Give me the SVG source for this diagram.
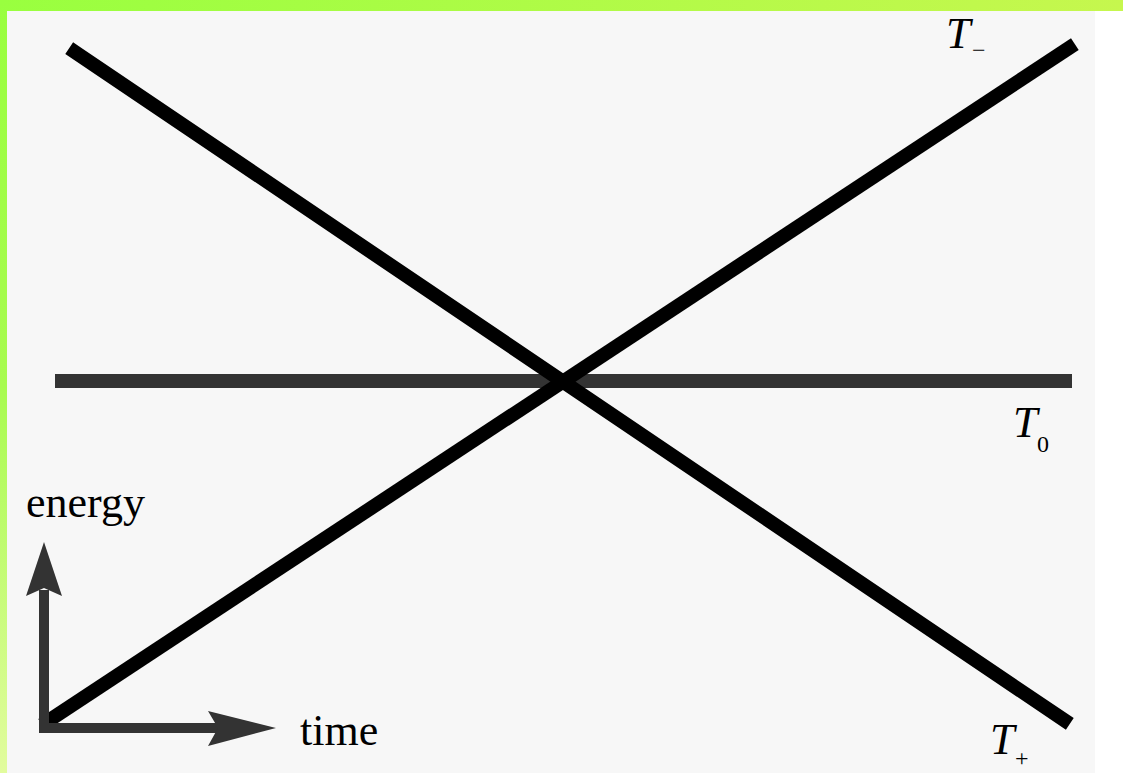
<svg xmlns="http://www.w3.org/2000/svg" width="1123" height="773" viewBox="0 0 1123 773">
<defs>
<linearGradient id="gtop" x1="0" y1="0" x2="1" y2="0">
<stop offset="0" stop-color="#99ff3f"/>
<stop offset="1" stop-color="#c6f74e"/>
</linearGradient>
<linearGradient id="gleft" x1="0" y1="0" x2="0" y2="1">
<stop offset="0" stop-color="#99ff3f"/>
<stop offset="0.5" stop-color="#a8fb50"/>
<stop offset="1" stop-color="#e2fc9e"/>
</linearGradient>
<style>
.line{stroke:#000;stroke-width:14;stroke-linecap:square;fill:none}
.axis{stroke:#333;stroke-width:10;fill:none}
.head{fill:#333}
.lbl{font-family:"Liberation Serif",serif;font-size:44px;fill:#000}
.it{font-style:italic}
.sub{font-size:24px}
</style>
</defs>
<rect x="0" y="0" width="1123" height="773" fill="#ffffff"/>
<rect x="0" y="0" width="1123" height="11" fill="url(#gtop)"/>
<rect x="0" y="0" width="7" height="773" fill="url(#gleft)"/>
<rect x="7" y="11" width="1088" height="762" fill="#f7f7f7"/>
<g id="connectors">
<line id="T0" x1="55" y1="381" x2="1072" y2="381" stroke="#333" stroke-width="14"/>
<line id="Tminus" class="line" x1="48" y1="721" x2="1069" y2="48"/>
<line id="Tplus" class="line" x1="75" y1="52" x2="1064" y2="720"/>
</g>
<g id="axes">
<line class="axis" x1="44" y1="733" x2="44" y2="590"/>
<polygon class="head" points="44,542 26,596 44,588 62,596"/>
<line class="axis" x1="39" y1="728" x2="220" y2="728"/>
<polygon class="head" points="276,728 208,711 218,728 208,746"/>
</g>
<g id="label-energy"><text class="lbl" x="26" y="517">energy</text></g>
<g id="label-time"><text class="lbl" x="300" y="745">time</text></g>
<g id="label-Tminus"><text class="lbl it" x="946" y="48">T</text><text class="lbl sub" x="972" y="58">−</text></g>
<g id="label-T0"><text class="lbl it" x="1013" y="437">T</text><text class="lbl sub" x="1037" y="452">0</text></g>
<g id="label-Tplus"><text class="lbl it" x="990" y="754">T</text><text class="lbl sub" x="1015" y="766">+</text></g>
</svg>
